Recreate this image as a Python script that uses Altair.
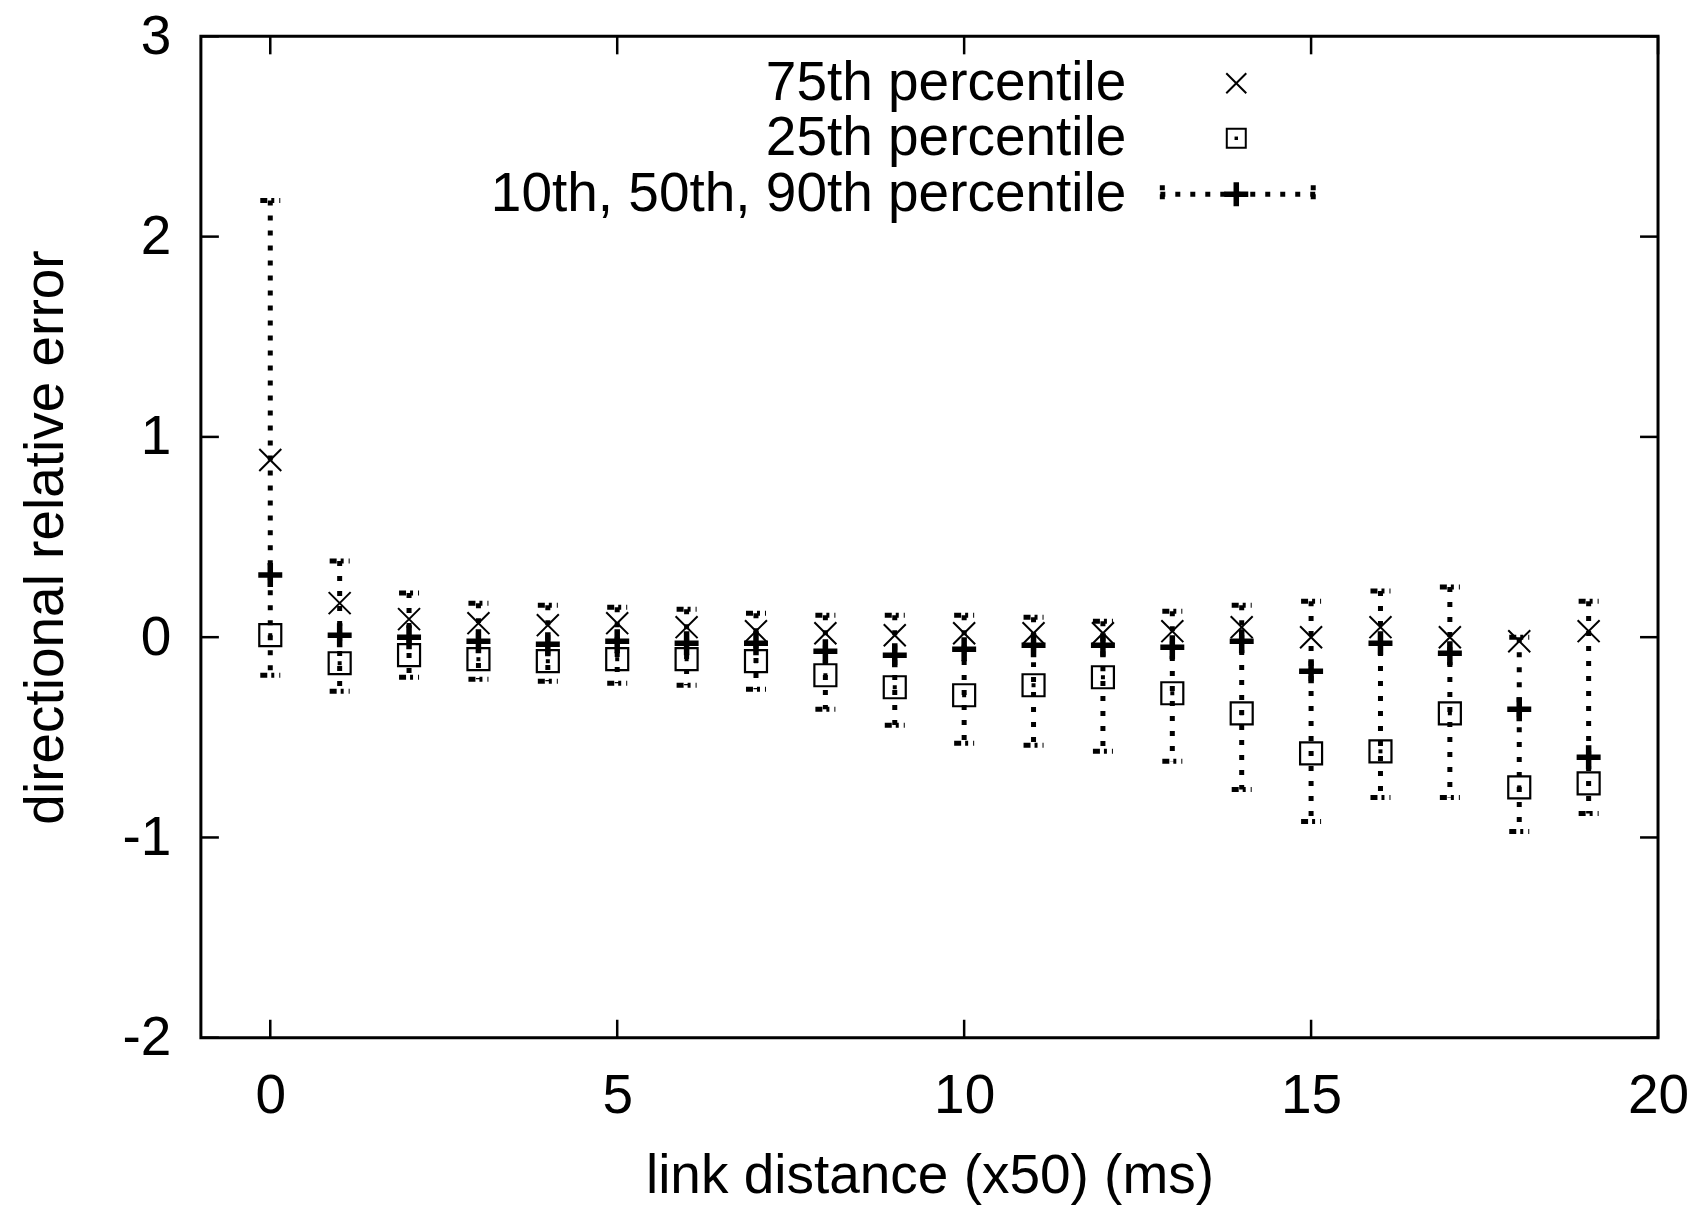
import altair as alt
import pandas as pd

# ---- data ----
dist = list(range(20))
p90 = [2.18, 0.38, 0.22, 0.17, 0.16, 0.15, 0.14, 0.12, 0.11, 0.11,
       0.11, 0.10, 0.08, 0.13, 0.16, 0.18, 0.23, 0.25, 0.00, 0.18]
p75 = [0.885, 0.17, 0.09, 0.07, 0.06, 0.07, 0.05, 0.03, 0.02, 0.01,
       0.02, 0.02, 0.02, 0.03, 0.05, 0.00, 0.05, 0.00, -0.02, 0.03]
p50 = [0.31, 0.01, 0.00, -0.02, -0.035, -0.02, -0.03, -0.03, -0.07, -0.09,
       -0.06, -0.04, -0.04, -0.05, -0.02, -0.17, -0.03, -0.08, -0.36, -0.60]
p25 = [0.01, -0.13, -0.09, -0.11, -0.12, -0.11, -0.11, -0.12, -0.19, -0.25,
       -0.29, -0.24, -0.20, -0.28, -0.38, -0.58, -0.57, -0.38, -0.75, -0.73]
p10 = [-0.19, -0.27, -0.20, -0.21, -0.22, -0.23, -0.24, -0.26, -0.36, -0.44,
       -0.53, -0.54, -0.57, -0.62, -0.76, -0.92, -0.80, -0.80, -0.97, -0.88]

x_ticks = [0, 5, 10, 15, 20]
y_ticks = [-2, -1, 0, 1, 2, 3]
legend_labels = ["75th percentile", "25th percentile", "10th, 50th, 90th percentile"]

# ---- layout ----
W, H = 1458, 1002
FONT = "Liberation Sans"
FS = 55
TICK = 18

df = pd.DataFrame({"x": dist, "p90": p90, "p75": p75, "p50": p50, "p25": p25, "p10": p10})
xt = pd.DataFrame({"x": x_ticks})
yt = pd.DataFrame({"y": y_ticks})

xscale = alt.Scale(domain=[-1, 20], nice=False, zero=False)
yscale = alt.Scale(domain=[-2, 3], nice=False, zero=False)

x_axis = alt.Axis(
    values=x_ticks, title="link distance (x50) (ms)", grid=False, domain=False,
    ticks=False, tickSize=0, labelPadding=75, labelBaseline="alphabetic",
    labelFont=FONT, labelFontSize=FS, labelColor="black",
    titleFont=FONT, titleFontSize=FS, titleFontWeight="normal", titleColor="black",
    titleBaseline="alphabetic", titleY=155, titleX=W / 2, labelFlush=False)
y_axis = alt.Axis(
    values=y_ticks, title="directional relative error", grid=False, domain=False,
    ticks=False, tickSize=0, labelPadding=30, labelBaseline="middle",
    labelExpr="'' + datum.value", labelFlush=False,
    labelFont=FONT, labelFontSize=FS, labelColor="black",
    titleFont=FONT, titleFontSize=FS, titleFontWeight="normal", titleColor="black",
    titleBaseline="alphabetic", titleAngle=-90, titleX=-138, titleY=H / 2)


def Xq(f="x"):
    return alt.X(f + ":Q", scale=xscale, axis=x_axis, title="link distance (x50) (ms)")


def Yq(f):
    return alt.Y(f + ":Q", scale=yscale, axis=y_axis, title="directional relative error")


base = alt.Chart(df)

# dotted bar between 10th and 90th
bars = base.mark_rule(color="black", strokeWidth=5, strokeDash=[5, 10]).encode(
    x=Xq(), y=Yq("p90"), y2=alt.Y2("p10:Q"))

caps_top = base.mark_rule(color="black", strokeWidth=5, strokeDash=[7, 4, 3, 5],
                          xOffset=-10, x2Offset=10).encode(
    x=Xq(), x2=alt.X2("x:Q"), y=Yq("p90"))
caps_bot = base.mark_rule(color="black", strokeWidth=5, strokeDash=[7, 4, 3, 5],
                          xOffset=-10, x2Offset=10).encode(
    x=Xq(), x2=alt.X2("x:Q"), y=Yq("p10"))

XSHAPE = "M-1,-1L1,1M-1,1L1,-1"
PSHAPE = "M-1,0L1,0M0,-1L0,1"

pt75 = base.mark_point(shape=XSHAPE, size=484, strokeWidth=2, filled=False,
                       color="black", opacity=1).encode(x=Xq(), y=Yq("p75"))
pt25 = base.mark_point(shape="square", size=484, strokeWidth=2.2, filled=False,
                       color="black", opacity=1).encode(x=Xq(), y=Yq("p25"))
dots = base.mark_point(shape="square", size=16, filled=True, color="black",
                       opacity=1).encode(x=Xq(), y=Yq("p25"))
pt50 = base.mark_point(shape=PSHAPE, size=576, strokeWidth=5.5, filled=False,
                       color="black", opacity=1).encode(x=Xq(), y=Yq("p50"))

# inward ticks on all four sides
tb = alt.Chart(xt).mark_rule(color="black", strokeWidth=2.5).encode(
    x=Xq(), y=alt.value(H), y2=alt.value(H - TICK))
tt = alt.Chart(xt).mark_rule(color="black", strokeWidth=2.5).encode(
    x=Xq(), y=alt.value(0), y2=alt.value(TICK))
tl = alt.Chart(yt).mark_rule(color="black", strokeWidth=2.5).encode(
    y=Yq("y"), x=alt.value(0), x2=alt.value(TICK))
tr = alt.Chart(yt).mark_rule(color="black", strokeWidth=2.5).encode(
    y=Yq("y"), x=alt.value(W), x2=alt.value(W - TICK))

# ---- legend (drawn manually, gnuplot style) ----
LX_TEXT = 926
LX_SYM = 1036
rows_y = [47, 102, 158]
leg = []
for lab, cy in zip(legend_labels, rows_y):
    leg.append(alt.Chart(pd.DataFrame({"t": [lab]})).mark_text(
        align="right", baseline="middle", font=FONT, fontSize=FS, color="black",
        dy=0).encode(text="t:N", x=alt.value(LX_TEXT), y=alt.value(cy)))

one = pd.DataFrame({"k": [0]})
leg.append(alt.Chart(one).mark_point(shape=XSHAPE, size=400, strokeWidth=2, filled=False,
                                     color="black", opacity=1).encode(
    x=alt.value(LX_SYM), y=alt.value(rows_y[0])))
leg.append(alt.Chart(one).mark_point(shape="square", size=361, strokeWidth=2, filled=False,
                                     color="black", opacity=1).encode(
    x=alt.value(LX_SYM), y=alt.value(rows_y[1])))
leg.append(alt.Chart(one).mark_point(shape="square", size=12, filled=True,
                                     color="black", opacity=1).encode(
    x=alt.value(LX_SYM), y=alt.value(rows_y[1])))
leg.append(alt.Chart(one).mark_rule(color="black", strokeWidth=5, strokeDash=[5, 10]).encode(
    x=alt.value(960), x2=alt.value(1115), y=alt.value(rows_y[2])))
leg.append(alt.Chart(one).mark_rule(color="black", strokeWidth=5, strokeDash=[5, 4]).encode(
    x=alt.value(962), y=alt.value(rows_y[2] - 9), y2=alt.value(rows_y[2] + 9)))
leg.append(alt.Chart(one).mark_rule(color="black", strokeWidth=5, strokeDash=[5, 4]).encode(
    x=alt.value(1113), y=alt.value(rows_y[2] - 9), y2=alt.value(rows_y[2] + 9)))
leg.append(alt.Chart(one).mark_point(shape=PSHAPE, size=576, strokeWidth=5.5, filled=False,
                                     color="black", opacity=1).encode(
    x=alt.value(LX_SYM), y=alt.value(rows_y[2])))

chart = alt.layer(bars, caps_top, caps_bot, pt75, pt25, dots, pt50,
                  tb, tt, tl, tr, *leg).properties(
    width=W, height=H,
    autosize=alt.AutoSizeParams(type="none"),
    padding={"left": 193, "top": 28, "right": 40, "bottom": 168},
    background="white",
).configure_view(stroke="black", strokeWidth=3)

chart.save("out.html", embed_options={"renderer": "svg", "actions": False})
